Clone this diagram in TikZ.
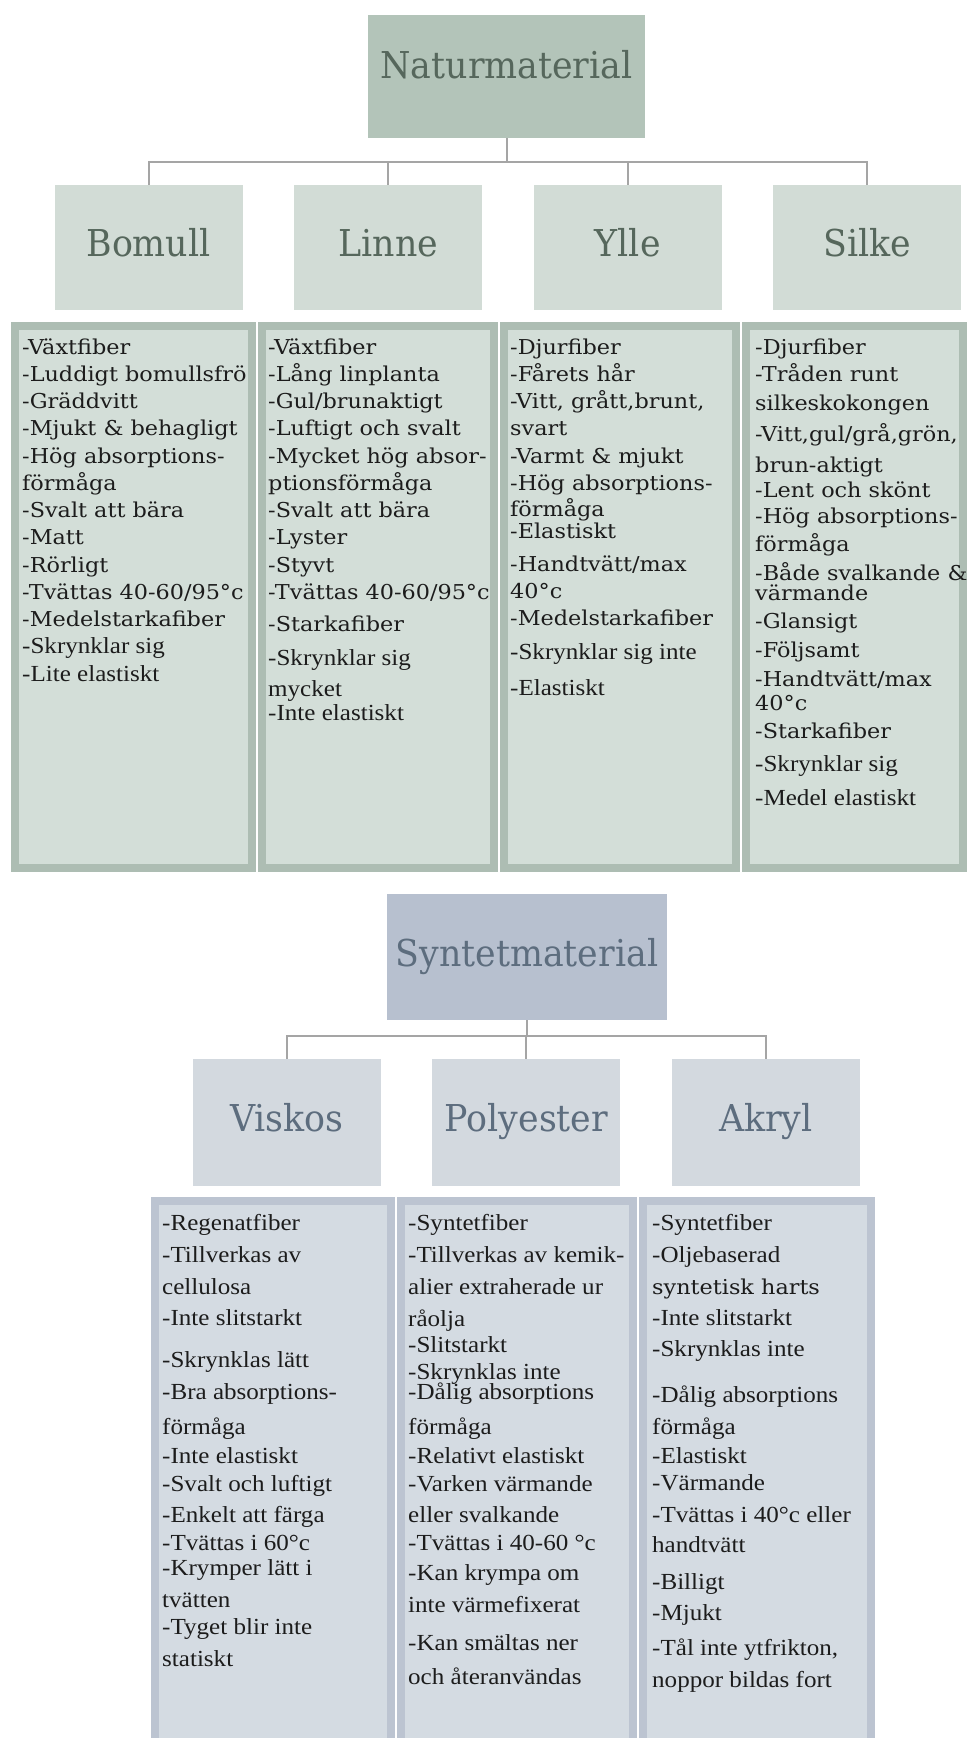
\documentclass[tikz,border=0pt]{standalone}
\usepackage{fontspec}
\usepackage{tikz}
\usetikzlibrary{positioning}
\newfontfamily\headfont[FakeStretch=0.94]{DejaVu Serif}
\newfontfamily\camfont[FakeStretch=1.09]{DejaVu Serif}
\newfontfamily\tmsfont[FakeStretch=1.09]{Liberation Serif}
\newcommand{\natcam}{\fontsize{20.5}{27.25}\camfont}
\newcommand{\nattms}{\fontsize{23}{27.25}\tmsfont}
\newcommand{\syncam}{\fontsize{20.5}{31}\camfont}
\newcommand{\syntms}{\fontsize{23}{31}\tmsfont}
\definecolor{natdark}{HTML}{B3C4B9}
\definecolor{natlight}{HTML}{D2DCD6}
\definecolor{natedge}{HTML}{ADBDB3}
\definecolor{natinner}{HTML}{D3DED8}
\definecolor{natink}{HTML}{56675C}
\definecolor{syndark}{HTML}{B7C0CF}
\definecolor{synlight}{HTML}{D3D9DF}
\definecolor{synedge}{HTML}{BCC4D1}
\definecolor{syninner}{HTML}{D4DBE2}
\definecolor{synink}{HTML}{5D6D7E}
\definecolor{ink}{HTML}{1C1C1C}
\definecolor{wirec}{HTML}{A5A5A5}

\begin{document}
\begin{tikzpicture}[x=1pt, y=-1pt,
    head/.style={fill=#1, inner sep=0pt, text height=25pt, text depth=7pt,
      font=\headfont\fontsize{37}{40}\selectfont},
    kid/.style={head=#1, minimum width=188pt, minimum height=125pt},
    cell/.style 2 args={draw=#1, fill=#2, line width=8pt, inner sep=0pt},
    facts/.style={anchor=base west, inner sep=0pt, text=ink},
    wire/.style={draw=wirec, line width=2pt}]
    \useasboundingbox (0,0) rectangle (967,1738);
    \clip (0,0) rectangle (967,1738);

    \node[head=natdark, text=natink, minimum width=277pt, minimum height=123pt, text depth=22pt] (nat) at (506.5,76.5) {Naturmaterial};
    \node[kid=natlight, text=natink] (bom) at (148.5,247.5) {Bomull};
    \node[kid=natlight, text=natink, right=51.5pt of bom] (lin) {Linne};
    \node[kid=natlight, text=natink, right=51pt of lin] (yll) {Ylle};
    \node[kid=natlight, text=natink, right=51pt of yll] (sil) {Silke};
    \coordinate (nbus) at (506.5,162);
    \draw[wire] (nat.south) -- (nbus);
    \foreach \k in {bom,lin,yll,sil}
      \draw[wire] (nbus) -| (\k.north);

    \node[cell={natedge}{natinner}, minimum width=237pt, minimum height=542pt] (bomc) at (133.5,597) {};
    \node[cell={natedge}{natinner}, minimum width=232pt, minimum height=542pt] (linc) at (378,597) {};
    \node[cell={natedge}{natinner}, minimum width=232pt, minimum height=542pt] (yllc) at (620,597) {};
    \node[cell={natedge}{natinner}, minimum width=217pt, minimum height=542pt] (silc) at (854.5,597) {};

    \node[facts] (bomt) at (22,354) {\parbox[t]{260pt}{\raggedright\lineskiplimit=-50pt
      \natcam -Växtfiber\\ -Luddigt bomullsfrö\\ -Gräddvitt\\ -Mjukt \& behagligt\\
      -Hög absorptions-\\ förmåga\\ -Svalt att bära\\ -Matt\\ -Rörligt\\
      -Tvättas 40-60/95°c\\ -Medelstarkafiber\\
      \nattms -Skrynklar sig\\ -Lite elastiskt}};
    \node[facts] (lint) at (268,354) {\parbox[t]{260pt}{\raggedright\lineskiplimit=-50pt
      \natcam -Växtfiber\\ -Lång linplanta\\ -Gul/brunaktigt\\ -Luftigt och svalt\\
      -Mycket hög absor-\\ ptionsförmåga\\ -Svalt att bära\\ -Lyster\\ -Styvt\\
      -Tvättas 40-60/95°c\\[4.75pt] -Starkafiber\\[6.75pt]
      \nattms -Skrynklar sig\\[3.75pt] mycket\\[-3.25pt] -Inte elastiskt}};
    \node[facts] (yllt) at (510,354) {\parbox[t]{260pt}{\raggedright\lineskiplimit=-50pt
      \natcam -Djurfiber\\ -Fårets hår\\ -Vitt, grått,brunt,\\ svart\\
      -Varmt \& mjukt\\ -Hög absorptions-\\[-1pt] förmåga\\[-5pt] -Elastiskt\\[5pt]
      -Handtvätt/max\\ 40°c\\ -Medelstarkafiber\\[7pt]
      \nattms -Skrynklar sig inte\\[8pt] -Elastiskt}};
    \node[facts] (silt) at (755,354) {\parbox[t]{260pt}{\raggedright\lineskiplimit=-50pt
      \natcam -Djurfiber\\ -Tråden runt\\[2pt] silkeskokongen\\[4pt]
      -Vitt,gul/grå,grön,\\[3pt] brun-aktigt\\[-2pt] -Lent och skönt\\[-1pt]
      -Hög absorptions-\\[1pt] förmåga\\[1pt] -Både svalkande \&\\[-7pt] värmande\\[1pt]
      -Glansigt\\[2pt] -Följsamt\\[1pt] -Handtvätt/max\\[-3pt] 40°c\\[1pt]
      -Starkafiber\\[6pt]
      \nattms -Skrynklar sig\\[6pt] -Medel elastiskt}};

    \node[head=syndark, text=synink, minimum width=280pt, minimum height=126pt] (syn) at (527,957) {Syntetmaterial};
    \node[kid=synlight, text=synink, minimum height=127pt] (vis) at (287,1122.5) {Viskos};
    \node[kid=synlight, text=synink, minimum height=127pt, right=51pt of vis] (pol) {Polyester};
    \node[kid=synlight, text=synink, minimum height=127pt, right=51pt of pol] (akr) {Akryl};
    \coordinate (sbus) at (527,1036);
    \draw[wire] (syn.south) -- (sbus);
    \foreach \k in {vis,pol,akr}
      \draw[wire] (sbus) -| (\k.north);

    \node[cell={synedge}{syninner}, minimum width=236pt, minimum height=555pt] (visc) at (273,1478.5) {};
    \node[cell={synedge}{syninner}, minimum width=232pt, minimum height=555pt] (polc) at (517,1478.5) {};
    \node[cell={synedge}{syninner}, minimum width=228pt, minimum height=555pt] (akrc) at (757,1478.5) {};

    \node[facts] (vist) at (162,1230) {\parbox[t]{260pt}{\raggedright\lineskiplimit=-50pt
      \syntms -Regenatfiber\\[1pt] -Tillverkas av\\[1pt] cellulosa\\ -Inte slitstarkt\\[11pt]
      -Skrynklas lätt\\[1pt] -Bra absorptions-\\[4pt] förmåga\\[-2pt] -Inte elastiskt\\[-3pt]
      -Svalt och luftigt\\ -Enkelt att färga\\[-3pt] -Tvättas i 60°c\\[-6pt]
      -Krymper lätt i\\[1pt] tvätten\\[-4pt] -Tyget blir inte\\[1pt] statiskt}};
    \node[facts] (polt) at (408,1230) {\parbox[t]{260pt}{\raggedright\lineskiplimit=-50pt
      \syntms -Syntetfiber\\[1pt] -Tillverkas av kemik-\\[1pt] alier extraherade ur\\[1pt]
      råolja\\[-5pt] -Slitstarkt\\[-4pt] -Skrynklas inte\\[-11pt] -Dålig absorptions\\[4pt]
      förmåga\\[-2pt] -Relativt elastiskt\\[-3pt] -Varken värmande\\ eller svalkande\\[-3pt]
      -Tvättas i 40-60 °c\\[-1pt] -Kan krympa om\\[1pt] inte värmefixerat\\[7pt]
      -Kan smältas ner\\[3pt] och återanvändas}};
    \node[facts] (akrt) at (652,1230) {\parbox[t]{260pt}{\raggedright\lineskiplimit=-50pt
      \syntms -Syntetfiber\\[1pt] -Oljebaserad\\[1pt] \syncam syntetisk harts\\
      \syntms -Inte slitstarkt\\ -Skrynklas inte\\[15pt] -Dålig absorptions\\[1pt]
      förmåga\\[-2pt] -Elastiskt\\[-4pt] -Värmande\\[1pt] -Tvättas i 40°c eller\\[-1pt]
      handtvätt\\[6pt] -Billigt\\ -Mjukt\\[4pt] -Tål inte ytfrikton,\\[1pt] noppor bildas fort}};
\end{tikzpicture}
\end{document}
